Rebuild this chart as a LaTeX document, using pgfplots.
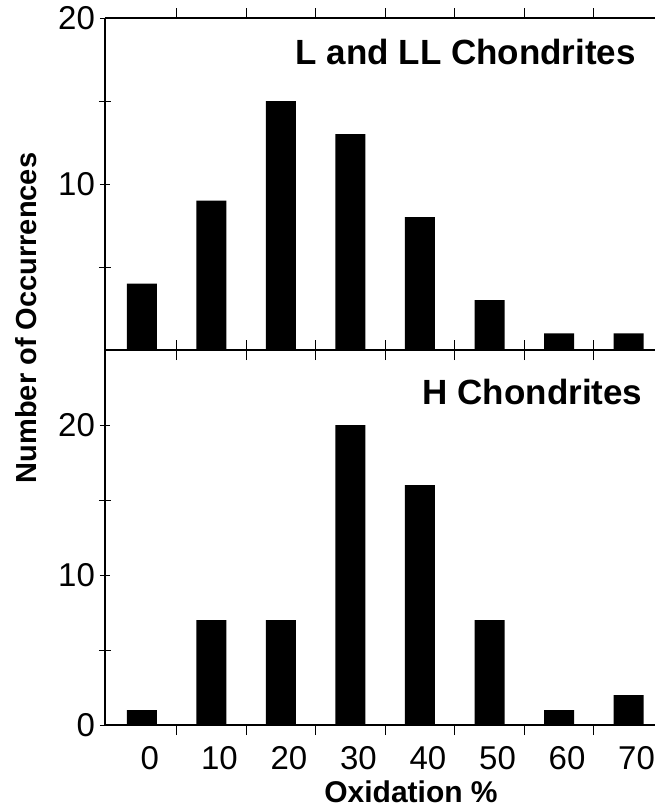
\documentclass[border=0pt]{standalone}
\usepackage{fontspec}
\setmainfont{Liberation Sans}
\usepackage{pgfplots}
\pgfplotsset{compat=1.18}
\pgfplotstableread{
x   y
0   4
10  9
20  15
30  13
40  8
50  3
60  1
70  1
}\toptable
\pgfplotstableread{
x   y
0   1
10  7
20  7
30  20
40  16
50  7
60  1
70  2
}\bottable
\begin{document}
\begin{tikzpicture}
\useasboundingbox (-52.5pt,9pt) rectangle (275pt,-396.5pt);
\pgfplotsset{
 common/.style={
  width=275pt, scale only axis,
  xmin=-5.3, xmax=73.8,
  axis x line*=box, axis y line*=left,
  axis line style={line width=0.9pt},
  xtick={5,15,...,65}, xticklabels={},
  tick style={black, line width=0.5pt},
  tick align=center,
  major tick length=5pt, minor tick length=6pt,
  ybar, bar width=15pt,
  ticklabel style={font=\fontsize{16.5}{18}\selectfont},
  yticklabel style={xshift=1pt},
  /pgf/number format/assume math mode=true,
  clip=false,
 }
}
\begin{axis}[common, name=top, height=166pt, ymin=0, ymax=20,
  ytick={10,20}, minor ytick={5,15}, at={(0,0)}, anchor=north west]
\addplot[fill=black, draw=none] table[x=x,y=y] {\toptable};
\node[anchor=east, inner sep=0pt, font=\bfseries\fontsize{17.5}{20}\selectfont] at (rel axis cs:0.966,0.898) {L and LL Chondrites};
\end{axis}
\begin{axis}[common, name=bot, height=187.5pt, ymin=0, ymax=25,
  ytick={0,10,20}, minor ytick={5,15}, at={(top.south west)}, anchor=north west,
  extra x ticks={0,10,...,70},
  extra x tick labels={0,10,20,30,40,50,60,70},
  extra x tick style={major tick length=0pt, xticklabel style={xshift=4pt, yshift=-7pt}}]
\addplot[fill=black, draw=none] table[x=x,y=y] {\bottable};
\node[anchor=east, inner sep=0pt, font=\bfseries\fontsize{17.5}{20}\selectfont] at (rel axis cs:0.978,0.888) {H Chondrites};
\end{axis}
\node[rotate=90, font=\bfseries\fontsize{14.5}{16}\selectfont] at (-39.5pt,-150pt) {Number of Occurrences};
\node[font=\bfseries\fontsize{15}{16}\selectfont, inner sep=1pt] at (153pt,-387pt) {Oxidation \%};
\end{tikzpicture}
\end{document}
